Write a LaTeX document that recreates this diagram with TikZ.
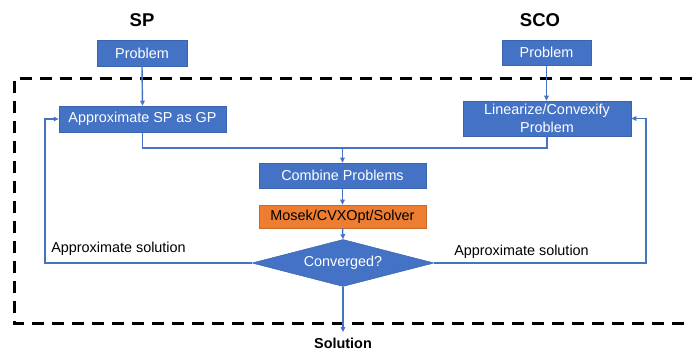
\documentclass[tikz,border=0pt]{standalone}
\usepackage{fontspec}
\setmainfont{Liberation Sans}
\usetikzlibrary{arrows.meta,shapes.geometric}

\definecolor{boxblue}{HTML}{4472C4}
\definecolor{boxedge}{HTML}{3A64B0}
\definecolor{solverorange}{HTML}{ED7D31}

\tikzset{
  title/.style={font=\fontsize{18.5}{22}\selectfont\bfseries, inner sep=0pt},
  stepbox/.style={rectangle, fill=boxblue, draw=boxedge, line width=0.5pt,
    text=white, font=\fontsize{14.4}{17.5}\selectfont, align=center,
    inner sep=0pt, anchor=center},
  solverbox/.style={stepbox, fill=solverorange, draw=solverorange!85!black, text=black},
  decision/.style={diamond, fill=boxblue, draw=boxedge, line width=0.5pt,
    text=white, font=\fontsize{14.4}{17.5}\selectfont, inner sep=0pt, aspect=3.87},
  note/.style={font=\fontsize{14.4}{17.5}\selectfont, inner sep=0pt},
  link/.style={draw=boxblue, line width=1.4pt},
  flow/.style={link, -{Triangle[length=5pt,width=4.5pt]}},
  frame/.style={draw=black, line width=3pt, dash pattern=on 12pt off 8pt},
}

\begin{document}
\begin{tikzpicture}[x=1pt, y=-1pt]
  \useasboundingbox (0,0) rectangle (692,352);

  % dashed frame around the iteration loop (open on the right)
  \draw[frame] (692,79) -- (14,79) -- (14,323) -- (692,323);

  % column headings
  \node[title] (sp)  at (142,20) {SP};
  \node[title] (sco) at (540,20) {SCO};

  % boxes
  \node[stepbox, minimum width=90pt,  minimum height=26pt] (spprob)  at (142,53)    {Problem};
  \node[stepbox, minimum width=89pt,  minimum height=25pt] (scoprob) at (546.5,52.5) {Problem};
  \node[stepbox, minimum width=167pt, minimum height=26pt] (approx)  at (142.5,119) {Approximate SP as GP};
  \node[stepbox, minimum width=168pt, minimum height=35pt] (lin)     at (547,118.5) {Linearize/Convexify\\Problem};
  \node[stepbox, minimum width=167pt, minimum height=25pt] (combine) at (342.5,175.5) {Combine Problems};
  \node[solverbox, minimum width=167pt, minimum height=23pt] (solver) at (342.5,216.5) {Mosek/CVXOpt/Solver};
  \node[decision, minimum width=182pt, minimum height=47pt] (conv)   at (343,263) {Converged?};

  \node[font=\fontsize{14.4}{17.5}\selectfont\bfseries, inner sep=0pt] (sol) at (343,343) {Solution};

  % bend points
  \coordinate (join) at (342.5,148);
  \coordinate (lb)   at (45,263);
  \coordinate (rb)   at (646,263);
  \coordinate (out)  at (343,332);

  % connectors
  \draw[flow] (spprob.south) -- (approx.north);
  \draw[flow] (scoprob.south) -- (scoprob.south |- lin.north);
  \draw[link] (approx.south) |- (join);
  \draw[link] (lin.south) |- (join);
  \draw[flow] (join) -- (combine.north);
  \draw[flow] (combine.south) -- (solver.north);
  \draw[flow] (solver.south) -- (conv.north);
  \draw[flow] (conv.west) -- (lb) |- (approx.west);
  \draw[flow] (conv.east) -- (rb) |- (lin.east);
  \draw[flow] (conv.south) -- (out);

  % feedback labels
  \node[note] (fbl) at (118.5,249) {Approximate solution};
  \node[note] (fbr) at (521.5,252) {Approximate solution};
\end{tikzpicture}
\end{document}
